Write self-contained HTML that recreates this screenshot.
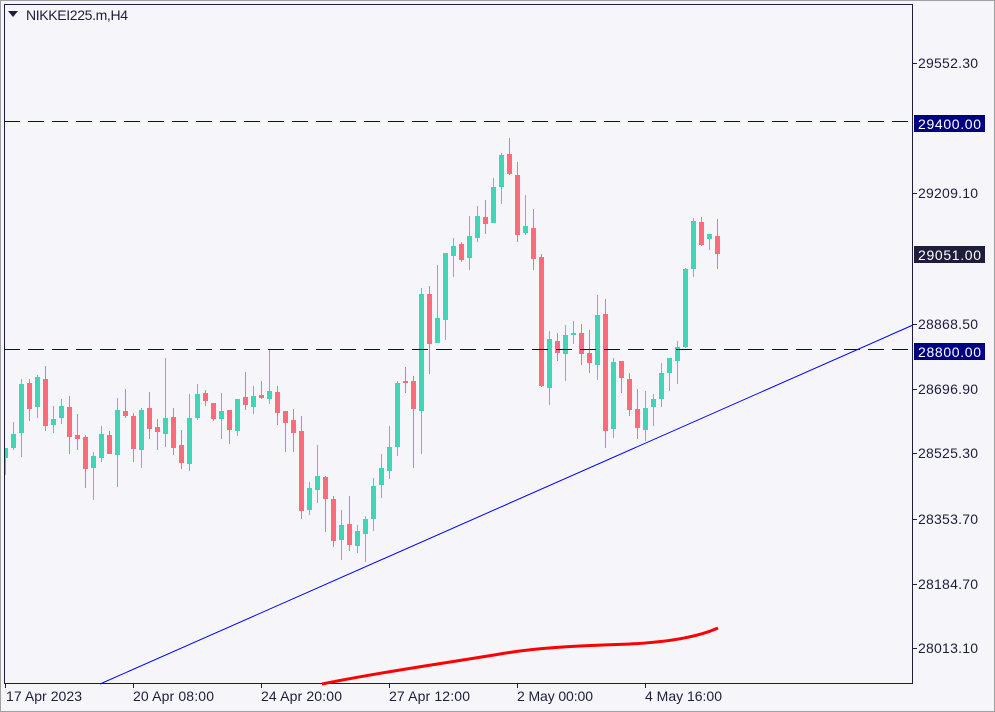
<!DOCTYPE html>
<html><head><meta charset="utf-8"><style>
body{margin:0;background:#f0f0f0;}
svg{display:block;font-family:"Liberation Sans",sans-serif;}
</style></head><body>
<svg id="s" width="995" height="712" xmlns="http://www.w3.org/2000/svg">
<rect x="0" y="0" width="995" height="712" fill="#f5f5fa"/>
<rect x="0.5" y="0.5" width="994" height="711" fill="none" stroke="#a0a0a0"/>
<rect x="4.5" y="4.5" width="908" height="679" fill="#f5f5fa" stroke="#1e1e3c"/>
<g id="c"></g>
<line x1="4" y1="121.5" x2="913" y2="121.5" stroke="#000080" stroke-width="1" stroke-dasharray="16,8"/>
<line x1="4" y1="349.5" x2="913" y2="349.5" stroke="#000080" stroke-width="1" stroke-dasharray="16,8"/>
<line x1="100" y1="684" x2="913" y2="325" stroke="#0000ff" stroke-width="1"/>
<path d="M322,684 C380,672 440,664 500,654 C540,647 580,646 630,644 C670,642 700,636 718,628" fill="none" stroke="#ff0000" stroke-width="3"/>
<g font-size="14" fill="#1e1e3c">
<text x="918" y="68" textLength="60">29552.30</text>
<text x="918" y="198" textLength="60">29209.10</text>
<text x="918" y="329" textLength="60">28868.50</text>
<text x="918" y="394" textLength="60">28696.90</text>
<text x="918" y="458" textLength="60">28525.30</text>
<text x="918" y="524" textLength="60">28353.70</text>
<text x="918" y="589" textLength="60">28184.70</text>
<text x="918" y="653" textLength="60">28013.10</text>
</g>
<g stroke="#1e1e3c"><line x1="913" y1="63.5" x2="917" y2="63.5"/><line x1="913" y1="193.5" x2="917" y2="193.5"/><line x1="913" y1="324.5" x2="917" y2="324.5"/><line x1="913" y1="389.5" x2="917" y2="389.5"/><line x1="913" y1="453.5" x2="917" y2="453.5"/><line x1="913" y1="519.5" x2="917" y2="519.5"/><line x1="913" y1="584.5" x2="917" y2="584.5"/><line x1="913" y1="648.5" x2="917" y2="648.5"/>
<line x1="5.5" y1="684" x2="5.5" y2="688"/><line x1="133.5" y1="684" x2="133.5" y2="688"/><line x1="261.5" y1="684" x2="261.5" y2="688"/><line x1="389.5" y1="684" x2="389.5" y2="688"/><line x1="517.5" y1="684" x2="517.5" y2="688"/><line x1="645.5" y1="684" x2="645.5" y2="688"/></g>
<rect x="914" y="115" width="71" height="17" fill="#000080"/>
<text x="918" y="129" font-size="14" fill="#fff" textLength="63">29400.00</text>
<rect x="914" y="246" width="71" height="17" fill="#1e1e3c"/>
<text x="918" y="260" font-size="14" fill="#fff" textLength="63">29051.00</text>
<rect x="914" y="343" width="71" height="17" fill="#000080"/>
<text x="918" y="357" font-size="14" fill="#fff" textLength="63">28800.00</text>
<g font-size="14" fill="#1e1e3c">
<text x="6" y="701" textLength="76">17 Apr 2023</text>
<text x="133" y="701" textLength="81">20 Apr 08:00</text>
<text x="261" y="701" textLength="81">24 Apr 20:00</text>
<text x="389" y="701" textLength="81">27 Apr 12:00</text>
<text x="517" y="701" textLength="76">2 May 00:00</text>
<text x="645" y="701" textLength="77">4 May 16:00</text>
</g>
<polygon points="8,11 18,11 13,17" fill="#1e1e3c"/>
<text x="26" y="20" font-size="14" fill="#1e1e3c" textLength="102">NIKKEI225.m,H4</text>
</svg>
<script>
var d=[
[448,458,448,475,'g'],[434,448,422,450,'g'],[384,433,379,457,'g'],[383,409,379,421,'r'],[377,407,375,418,'g'],
[379,426,366,431,'r'],[419,425,406,433,'g'],[406,418,399,424,'g'],[407,437,396,454,'r'],[435,439,414,450,'r'],
[437,469,435,488,'r'],[456,468,452,500,'g'],[434,458,426,462,'g'],[435,454,431,454,'r'],[410,455,398,487,'g'],
[411,416,389,418,'r'],[416,449,413,462,'r'],[410,450,408,468,'g'],[408,429,392,439,'r'],[427,432,419,450,'r'],
[418,434,358,447,'g'],[417,448,408,455,'r'],[445,463,430,469,'r'],[418,464,394,471,'g'],[394,418,384,420,'g'],
[393,401,390,406,'r'],[403,419,403,421,'r'],[411,419,393,439,'g'],[410,430,410,444,'r'],[399,431,399,436,'g'],
[397,405,372,410,'r'],[396,407,386,414,'g'],[395,398,381,399,'r'],[391,399,349,404,'g'],[392,413,386,425,'r'],
[411,423,411,452,'r'],[420,433,409,452,'r'],[431,511,416,519,'r'],[488,510,482,515,'g'],[476,490,445,503,'g'],
[477,499,476,532,'r'],[499,541,496,547,'r'],[525,540,510,560,'g'],[524,545,496,551,'r'],[531,546,525,553,'g'],
[519,534,516,562,'g'],[486,519,478,531,'g'],[468,485,454,498,'g'],[447,471,426,479,'g'],[383,447,381,456,'g'],
[381,383,367,393,'r'],[381,409,376,468,'r'],[294,411,288,454,'g'],[294,344,286,374,'r'],[318,343,265,343,'g'],
[253,320,253,340,'g'],[246,256,238,277,'g'],[244,260,242,262,'r'],[236,258,216,270,'g'],[216,238,206,242,'g'],
[217,224,200,234,'r'],[187,223,178,223,'g'],[155,187,153,204,'g'],[154,174,138,175,'r'],[175,235,162,242,'r'],
[226,233,195,235,'g'],[228,259,209,270,'r'],[257,386,254,387,'r'],[339,388,331,405,'g'],[341,353,333,361,'r'],
[335,354,325,381,'g'],[333,335,321,344,'g'],[333,354,324,365,'r'],[353,363,330,373,'r'],[315,365,295,380,'g'],
[314,431,299,448,'r'],[362,429,358,438,'g'],[361,378,361,393,'r'],[379,410,373,416,'r'],[409,428,389,439,'r'],
[408,430,391,441,'g'],[399,407,394,426,'g'],[373,399,363,407,'g'],[358,373,358,391,'g'],[347,361,341,384,'g'],
[269,347,268,348,'g'],[221,269,218,277,'g'],[222,245,217,246,'r'],[234,239,234,250,'g'],[236,254,219,269,'r']];
var h='';
d.forEach(function(c,k){var x=5.5+8*k;var col=c[4]=='g'?'#3dd6b7':'#ff6b7d';
var wc=c[4]=='g'?'#3dd6b7':'#f07585';
h+='<line x1="'+x+'" y1="'+c[2]+'" x2="'+x+'" y2="'+c[3]+'" stroke="'+wc+'" stroke-width="1"/>';
var bx=Math.max(x-2.5,5);
h+='<rect x="'+bx+'" y="'+c[0]+'" width="'+(x+2.5-bx)+'" height="'+Math.max(c[1]-c[0],1.5)+'" fill="'+col+'"/>';});
document.getElementById('c').innerHTML=h;
</script>
</body></html>
